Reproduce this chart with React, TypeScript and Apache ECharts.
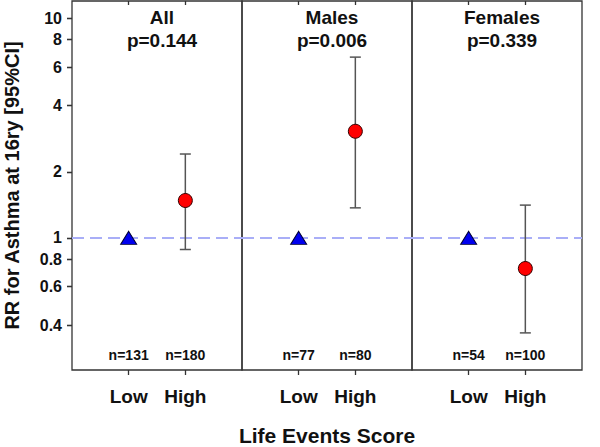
import React, { useEffect, useRef } from "react";
import * as echarts from "echarts";

const groups = ["All", "Males", "Females"];
const pValues = ["p=0.144", "p=0.006", "p=0.339"];
const categories = ["Low", "High"];
const lowRR = [1, 1, 1];
const highRR = [1.48, 3.06, 0.725];
const highLower = [0.885, 1.37, 0.369];
const highUpper = [2.41, 6.66, 1.41];
const nLow = [131, 77, 54];
const nHigh = [180, 80, 100];
const yTicks = [0.4, 0.6, 0.8, 1, 2, 4, 6, 8, 10];
const yMin = 0.25;
const yMax = 12;
const nLabelY = 0.292;

const FONT = 'Arial, "Liberation Sans", Helvetica, sans-serif';
const TXT = "#111";
const xPos = [1, 2];

export default function App() {
  const ref = useRef<HTMLDivElement>(null);
  useEffect(() => {
    if (!ref.current) return;
    const chart = echarts.init(ref.current, null, { renderer: "svg" });
    const panelLeft = 72;
    const panelW = 170;
    const top = 1;
    const height = 369;

    const grids = groups.map((_, i) => ({
      left: panelLeft + i * panelW,
      top,
      width: panelW,
      height,
      show: true,
      outerBoundsMode: "none",
      containLabel: false,
      borderColor: "#333",
      borderWidth: 1.3,
      backgroundColor: "transparent",
    }));

    const xAxes: any[] = [];
    groups.forEach((_, i) => {
      xAxes.push({
        type: "value",
        gridIndex: i,
        min: 0,
        max: 3,
        splitLine: { show: false },
        axisLine: { show: false },
        axisTick: {
          show: true,
          inside: false,
          length: 5,
          customValues: xPos,
          lineStyle: { color: "#333", width: 1.3 },
        },
        axisLabel: {
          show: true,
          customValues: xPos,
          margin: 17,
          formatter: (v: number) => categories[v - 1] ?? "",
          fontFamily: FONT,
          fontWeight: "bold",
          fontSize: 19,
          color: TXT,
        },
        name: i === 1 ? "Life Events Score" : "",
        nameLocation: "middle",
        nameGap: 56,
        nameTextStyle: { fontFamily: FONT, fontWeight: "bold", fontSize: 21, lineHeight: 18, color: TXT },
      });
    });
    groups.forEach((_, i) => {
      xAxes.push({
        type: "value",
        gridIndex: i,
        min: 0,
        max: 3,
        splitLine: { show: false },
        axisLine: { show: false },
        axisTick: {
          show: true,
          inside: true,
          length: 4,
          customValues: xPos,
          lineStyle: { color: "#333", width: 1.3 },
        },
        axisLabel: { show: false },
      });
    });

    const yAxes: any[] = [];
    groups.forEach((_, i) => {
      yAxes.push({
        type: "log",
        gridIndex: i,
        min: yMin,
        max: yMax,
        splitLine: { show: false },
        axisLine: { show: false },
        axisTick: {
          show: i === 0,
          inside: false,
          length: 5,
          customValues: yTicks,
          lineStyle: { color: "#333", width: 1.3 },
        },
        axisLabel: {
          show: i === 0,
          customValues: yTicks,
          margin: 10,
          formatter: (v: number) => String(v),
          fontFamily: FONT,
          fontWeight: "bold",
          fontSize: 16,
          color: TXT,
        },
        name: i === 0 ? "RR for Asthma at 16ry [95%CI]" : "",
        nameLocation: "middle",
        nameGap: 50,
        nameTextStyle: { fontFamily: FONT, fontWeight: "bold", fontSize: 20, color: TXT },
      });
    });
    yAxes.push({
      type: "log",
      gridIndex: 0,
      min: yMin,
      max: yMax,
      splitLine: { show: false },
      axisLine: { show: false },
      axisTick: {
        show: true,
        inside: true,
        length: 5,
        customValues: yTicks,
        lineStyle: { color: "#333", width: 1.3 },
      },
      axisLabel: { show: false },
    });

    const series: any[] = [];
    groups.forEach((_, i) => {
      // error bars
      series.push({
        type: "custom",
        xAxisIndex: i,
        yAxisIndex: i,
        z: 2,
        data: [[xPos[1], highLower[i], highUpper[i]]],
        renderItem: (params: any, api: any) => {
          const x = api.value(0);
          const lo = api.coord([x, api.value(1)]);
          const hi = api.coord([x, api.value(2)]);
          const cap = 5.5;
          const st = { stroke: "#555", lineWidth: 1.5 };
          return {
            type: "group",
            children: [
              { type: "line", shape: { x1: lo[0], y1: lo[1], x2: hi[0], y2: hi[1] }, style: st },
              { type: "line", shape: { x1: lo[0] - cap, y1: lo[1], x2: lo[0] + cap, y2: lo[1] }, style: st },
              { type: "line", shape: { x1: hi[0] - cap, y1: hi[1], x2: hi[0] + cap, y2: hi[1] }, style: st },
            ],
          };
        },
      });
      // reference line + low triangle
      series.push({
        type: "scatter",
        xAxisIndex: i,
        yAxisIndex: i,
        z: 3,
        symbol: "triangle",
        symbolSize: [16, 13],
        itemStyle: { color: "#0000ee", borderColor: "#000033", borderWidth: 1, opacity: 1 },
        data: [[xPos[0], lowRR[i]]],
        markLine: {
          silent: true,
          symbol: "none",
          label: { show: false },
          lineStyle: { color: "#a9aef7", width: 2, type: [12, 6], opacity: 1 },
          data: [{ yAxis: 1 }],
          z: 1,
        },
      });
      // high circle
      series.push({
        type: "scatter",
        xAxisIndex: i,
        yAxisIndex: i,
        z: 4,
        symbol: "circle",
        symbolSize: 14,
        itemStyle: { color: "#ff0000", borderColor: "#330000", borderWidth: 1, opacity: 1 },
        data: [[xPos[1], highRR[i]]],
      });
      // n labels
      series.push({
        type: "scatter",
        xAxisIndex: i,
        yAxisIndex: i,
        symbolSize: 0,
        silent: true,
        itemStyle: { opacity: 1, color: "transparent" },
        label: {
          show: true,
          position: "inside",
          formatter: (p: any) => "n=" + p.value[2],
          fontFamily: FONT,
          fontWeight: "bold",
          fontSize: 14,
          color: TXT,
          textBorderWidth: 0,
        },
        data: [
          [xPos[0], nLabelY, nLow[i]],
          [xPos[1], nLabelY, nHigh[i]],
        ],
      });
    });

    const titles = groups.map((g, i) => ({
      text: g + "\n" + pValues[i],
      left: panelLeft + i * panelW + panelW / 2,
      top: 1,
      textAlign: "center",
      textStyle: {
        fontFamily: FONT,
        fontWeight: "bold",
        fontSize: 19,
        lineHeight: 23,
        color: TXT,
      },
    }));

    chart.setOption({
      animation: false,
      backgroundColor: "#fff",
      title: titles,
      grid: grids,
      xAxis: xAxes,
      yAxis: yAxes,
      series,
    });
    return () => chart.dispose();
  }, []);
  return (
    <div
      ref={ref}
      style={{ position: "absolute", left: 0, top: 0, width: 600, height: 447 }}
    />
  );
}
